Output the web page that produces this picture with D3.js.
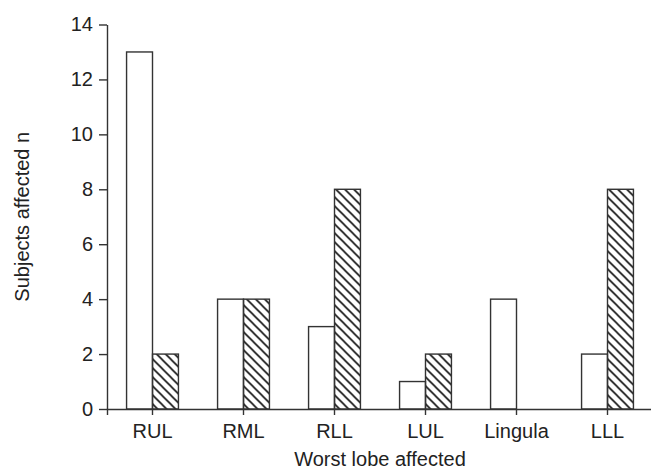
<!DOCTYPE html>
<html>
<head>
<meta charset="utf-8">
<script src="https://cdn.jsdelivr.net/npm/d3@7"></script>
<style>
  body { margin: 0; background: #fff; }
  text { font-family: "Liberation Sans", Arial, sans-serif; fill: #222; }
</style>
</head>
<body>
<div id="chart-area"></div>
<script>
// Data
var lobes = ["RUL", "RML", "RLL", "LUL", "Lingula", "LLL"];
var series = ["open", "hatched"];
var openValues = [13, 4, 3, 1, 4, 2];
var hatchedValues = [2, 4, 8, 2, 0, 8];
var yTicks = [0, 2, 4, 6, 8, 10, 12, 14];

var width = 651, height = 469;
var plotLeft = 107, plotRight = 653, plotTop = 24.5, plotBottom = 409;

var svg = d3.select("#chart-area")
	.append("svg")
	.attr("width", width)
	.attr("height", height);

// Hatch pattern
svg.append("defs").append("pattern")
	.attr("id", "hatch")
	.attr("patternUnits", "userSpaceOnUse")
	.attr("width", 9)
	.attr("height", 9)
	.append("path")
	.attr("d", "M0,0 L9,9 M-2,7 L2,11 M7,-2 L11,2")
	.attr("stroke", "#111")
	.attr("stroke-width", 1.6);

// Scales
var x0 = d3.scaleBand()
	.domain(lobes)
	.range([plotLeft, plotRight])
	.paddingInner(0.43)
	.paddingOuter(0.215);

var x1 = d3.scaleBand()
	.domain(series)
	.range([0, x0.bandwidth()]);

var y = d3.scaleLinear()
	.domain([0, 14])
	.range([plotBottom, plotTop]);

var rows = lobes.map(function (d, i) {
	return { lobe: d, values: [
		{ key: "open", value: openValues[i] },
		{ key: "hatched", value: hatchedValues[i] }
	] };
});

// Bars
var groups = svg.append("g")
	.selectAll("g")
	.data(rows)
	.enter()
	.append("g")
	.attr("transform", function (d) { return "translate(" + x0(d.lobe) + ",0)"; });

groups.selectAll("rect")
	.data(function (d) { return d.values.filter(function (v) { return v.value > 0; }); })
	.enter()
	.append("rect")
	.attr("x", function (d) { return x1(d.key); })
	.attr("y", function (d) { return y(d.value); })
	.attr("width", x1.bandwidth())
	.attr("height", function (d) { return y(0) - y(d.value); })
	.attr("fill", function (d) { return d.key === "open" ? "#fff" : "url(#hatch)"; })
	.attr("stroke", "#333")
	.attr("stroke-width", 1.4);

// Y Axis
var yAxis = d3.axisLeft(y)
	.tickValues(yTicks)
	.tickSize(8)
	.tickSizeOuter(0)
	.tickPadding(6);

var yg = svg.append("g")
	.attr("transform", "translate(" + plotLeft + ",0)")
	.call(yAxis);
yg.selectAll("text").style("font-size", "20px").attr("fill", "#222");

// X Axis
var xAxis = d3.axisBottom(x0)
	.tickSize(6)
	.tickSizeOuter(6)
	.tickPadding(9);

var xg = svg.append("g")
	.attr("transform", "translate(0," + plotBottom + ")")
	.call(xAxis);
xg.selectAll("text").style("font-size", "20px").attr("fill", "#222");

svg.selectAll(".domain, .tick line")
	.attr("stroke", "#333")
	.attr("stroke-width", 1.4);

// Labels
svg.append("text")
	.attr("x", (plotLeft + plotRight) / 2)
	.attr("y", 466)
	.attr("text-anchor", "middle")
	.style("font-size", "20px")
	.text("Worst lobe affected");

svg.append("text")
	.attr("transform", "translate(29," + (plotTop + plotBottom) / 2 + ") rotate(-90)")
	.attr("text-anchor", "middle")
	.style("font-size", "20px")
	.text("Subjects affected n");
</script>
</body>
</html>
